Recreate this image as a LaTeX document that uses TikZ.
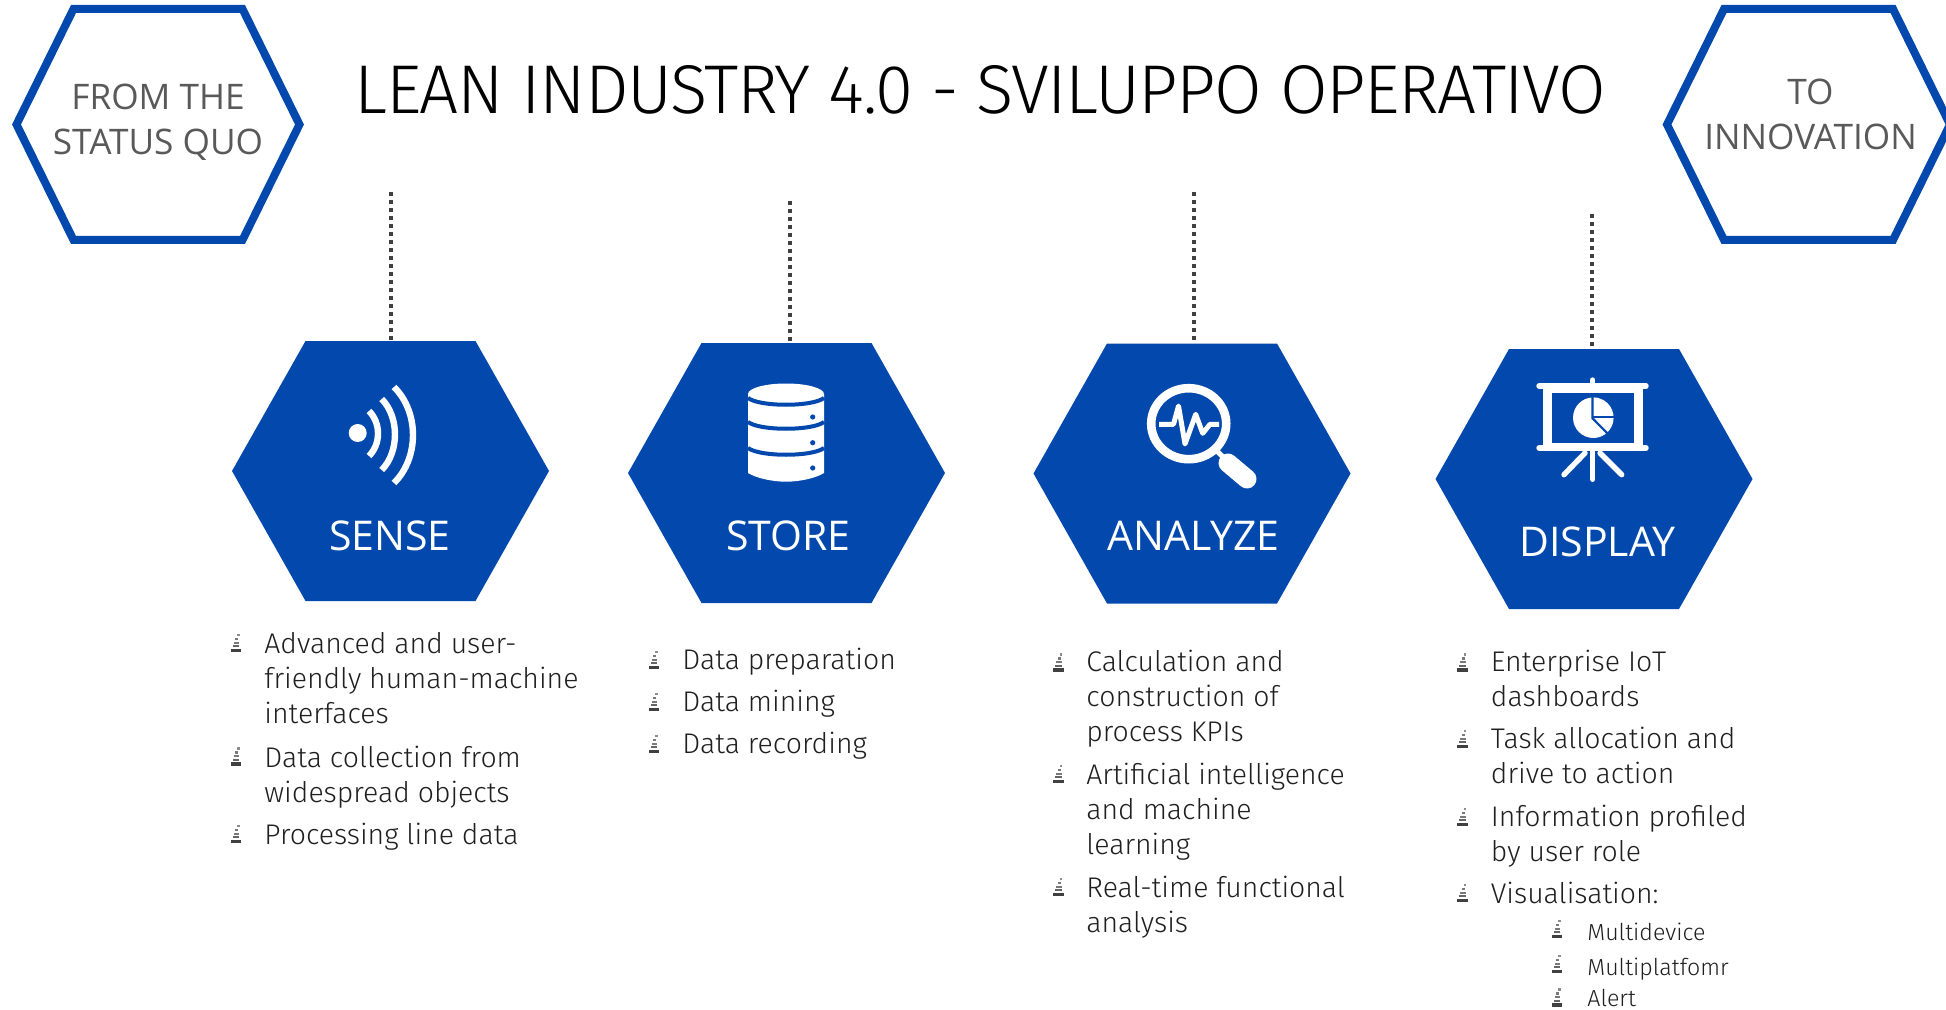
\documentclass[tikz,border=0pt]{standalone}
\usepackage{fontspec}
\setmainfont{Fira Sans Light}
\newfontfamily\labelfont{Open Sans}
\newfontfamily\titlefont{Fira Sans Light}[LetterSpace=-2]
\usepackage{color}
\definecolor{hexblue}{HTML}{0349AD}
\definecolor{capgray}{HTML}{595959}
\definecolor{dotgray}{HTML}{404040}
\definecolor{itemgray}{HTML}{1F1F1F}
\tikzset{
  hexsolid/.pic={
    \fill [hexblue] (-158.5,0) -- (-85,-130) -- (85,-130) -- (158.5,0) -- (85,130) -- (-85,130) -- cycle;
    \coordinate (-top) at (0,130);
  },
  hexline/.pic={
    \draw [hexblue,line width=4pt,miter limit=10] (-141.5,0) -- (-84.5,-115.5) -- (84.5,-115.5) -- (141.5,0) -- (84.5,115.5) -- (-84.5,115.5) -- cycle;
  },
  flaskmark/.pic={
    \fill [dotgray] (-5.5,0) rectangle (5,3.5);
    \fill [dotgray!80] (-3.5,5) rectangle (3,7);
    \fill [dotgray!70] (-2.5,8.5) rectangle (3,10.5);
    \fill [dotgray!70] (-1,12) rectangle (2,14.5);
    \fill [dotgray!60] (1,16) rectangle (3.5,18.5);
  },
  itemtext/.style={anchor=base west,inner sep=0pt,align=left,text=itemgray,font=\fontsize{14.2}{17.5}\selectfont},
  subtext/.style={anchor=base west,inner sep=0pt,text=itemgray,font=\fontsize{11.6}{14}\selectfont},
  hexlabel/.style={anchor=base,inner sep=0pt,text=white,font=\labelfont\fontsize{20.5}{24}\selectfont},
  sidelabel/.style={inner sep=0pt,align=center,text=capgray,font=\labelfont\fontsize{17.6}{22.5}\selectfont},
  dropline/.style={dotgray,line width=2pt,dash pattern=on 1.9pt off 2.1pt},
  iconline/.style={white,line cap=round,line join=round},
}

\begin{document}
\begin{tikzpicture}[x=0.5pt,y=0.5pt,yscale=-1,xscale=1]
\useasboundingbox (0,0) rectangle (1946,1010);

% Outline hexagons
\pic at (158,124.5) {hexline};
\pic at (1808.5,124.5) {hexline};
\node (fromlabel) [sidelabel] at (158,122) {FROM THE\\STATUS QUO};
\node (tolabel) [sidelabel] at (1810.5,114) {TO\\INNOVATION};

% Title
\node (title) [anchor=base west,inner sep=0pt,font=\titlefont\fontsize{34.5}{40}\selectfont] at (354,114) {LEAN INDUSTRY 4.0 - SVILUPPO OPERATIVO};

% Solid hexagons
\pic (sense) at (390.5,471) {hexsolid};
\pic (store) at (786.5,473) {hexsolid};
\pic (analyze) at (1192,473.5) {hexsolid};
\pic (display) at (1594,479) {hexsolid};
\node (senselabel) [hexlabel] at (390,550) {SENSE};
\node (storelabel) [hexlabel] at (788.5,550) {STORE};
\node (analyzelabel) [hexlabel] at (1193.5,550) {ANALYZE};
\node (displaylabel) [hexlabel] at (1597.5,556) {DISPLAY};

% Dotted drops
\coordinate (sensedrop) at (391,192);
\coordinate (storedrop) at (790,201);
\coordinate (analyzedrop) at (1194,192);
\coordinate (displaydrop) at (1592,214);
\draw [dropline] (sensedrop) -- (sensedrop |- sense-top);
\draw [dropline] (storedrop) -- (storedrop |- store-top);
\draw [dropline] (analyzedrop) -- (analyzedrop |- analyze-top);
\draw [dropline] (displaydrop) -- (displaydrop |- display-top);

% Sense icon
\fill [white] (357.7,433) circle (9);
\draw [white,line width=3.2pt] (369,411) .. controls (381,423) and (381,444) .. (369,456);
\draw [white,line width=3.2pt] (381.7,399) .. controls (399.4,417) and (399.4,452) .. (381.7,470);
\draw [white,line width=3.2pt] (394,387) .. controls (419.3,412) and (419.3,458) .. (394,483);

% Store icon
\fill [white] (748,394) -- (748,473) .. controls (756,478) and (772,481.7) .. (786,481.7) .. controls (800,481.7) and (816,478) .. (824,473) -- (824,394) -- cycle;
\fill [white] (786,394) ellipse (38 and 10.5);
\draw [hexblue,line width=2pt] (748,398) .. controls (760,407) and (812,407) .. (824,398);
\draw [hexblue,line width=2pt] (748,422) .. controls (760,431) and (812,431) .. (824,422);
\draw [hexblue,line width=2pt] (748,448) .. controls (760,457) and (812,457) .. (824,448);
\foreach \y in {417,442.7,468} {
  \fill [hexblue] (812.7,\y) circle (2.6);
}

% Analyze icon
\draw [white,line width=4.3pt] (1188.7,423.7) ellipse (37.5 and 35.5);
\draw [white,line width=2.5pt] (1213,447) -- (1228,462);
\draw [iconline,line width=9.5pt] (1228,463) -- (1247,479);
\draw [iconline,line width=2.5pt,line cap=butt] (1159,424.3) -- (1173.5,424.3) -- (1178.5,406) -- (1185,444) -- (1195.7,414.3) -- (1202.7,433.3) -- (1210,424.3) -- (1219,424.3);

% Display icon
\fill [white] (1543.3,383.3) rectangle (1642.7,451);
\fill [hexblue] (1552,392.7) rectangle (1634,443.3);
\draw [iconline,line width=2.7pt] (1539,386) -- (1646,386);
\draw [iconline,line width=2.7pt] (1539,448) -- (1646,448);
\draw [iconline,line width=2.7pt] (1592.7,380) -- (1592.7,386);
\draw [iconline,line width=2.7pt] (1592.7,451) -- (1592.7,479.3);
\draw [iconline,line width=2.7pt] (1585,453) -- (1564,474.7);
\draw [iconline,line width=2.7pt] (1600,453) -- (1621.7,474.7);
\fill [white] (1593.3,417.7) circle (20.3);
\draw [hexblue,line width=1.1pt] (1592.5,396) -- (1592.5,418.3) -- (1608,434);
\draw [hexblue,line width=1.1pt] (1593,417) -- (1615,417);

% Sense items
\node (sensea) [itemtext] at (264,723.5) {Advanced and user-\\friendly human-machine\\interfaces};
\node (senseb) [itemtext] at (264,802) {Data collection from\\widespread objects};
\node (sensec) [itemtext] at (264,844) {Processing line data};

% Store items
\node (storea) [itemtext] at (682,669) {Data preparation};
\node (storeb) [itemtext] at (682,711) {Data mining};
\node (storec) [itemtext] at (682,753) {Data recording};

% Analyze items
\node (analyzea) [itemtext] at (1086,741.5) {Calculation and\\construction of\\process KPIs};
\node (analyzeb) [itemtext] at (1086,854) {Artificial intelligence\\and machine\\learning};
\node (analyzec) [itemtext] at (1086,932) {Real-time functional\\analysis};

% Display items
\node (displaya) [itemtext] at (1490.5,706.5) {Enterprise IoT\\dashboards};
\node (displayb) [itemtext] at (1490.5,783.5) {Task allocation and\\drive to action};
\node (displayc) [itemtext] at (1490.5,861) {Information profiled\\by user role};
\node (displayd) [itemtext] at (1490.5,903.5) {Visualisation:};
\node (displaye) [subtext] at (1587,940) {Multidevice};
\node (displayf) [subtext] at (1587,975) {Multiplatfomr};
\node (displayg) [subtext] at (1587,1006.5) {Alert};

% Bullets
\foreach \x/\y in {236/652,236/765.5,236/843,654/669,654/711,654/753,1058.5/671.5,1058.5/783,1058.5/896,1462.5/671.5,1462.5/748,1462.5/826,1462.5/902.3,1557/938,1557/973,1557/1006.5} {
  \pic at (\x,\y) {flaskmark};
}
\end{tikzpicture}
\end{document}
